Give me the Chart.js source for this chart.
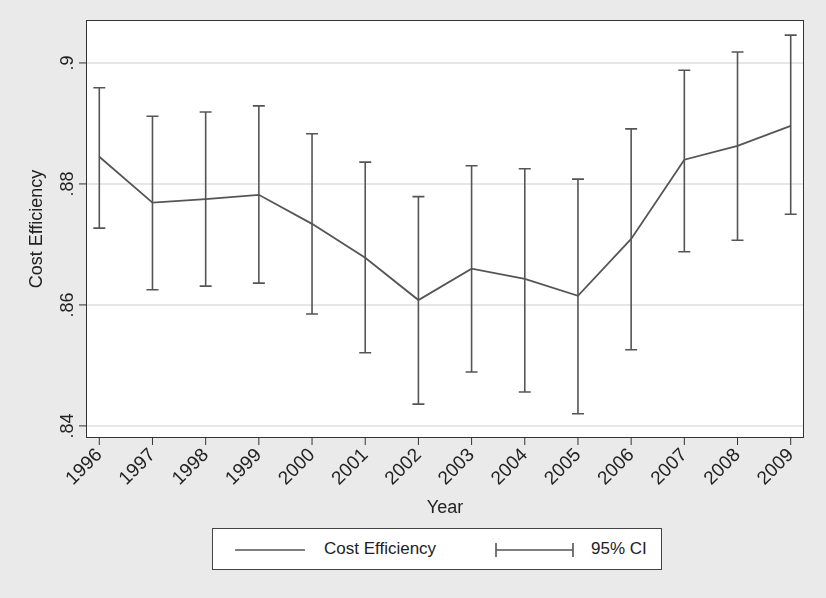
<!DOCTYPE html>
<html>
<head>
<meta charset="utf-8">
<script src="https://cdn.jsdelivr.net/npm/chart.js@4.4.1/dist/chart.umd.min.js"></script>
<style>
  html, body { margin: 0; padding: 0; background: #eaeaea; }
  #wrap { position: relative; width: 826px; height: 598px; }
  #legend {
    position: absolute; left: 212px; top: 528px; width: 450px; height: 42px;
    background: #fff; border: 1px solid #444; box-sizing: border-box;
    font-family: "Liberation Sans", Arial, sans-serif; font-size: 17px; color: #222;
  }
  #legend span { position: absolute; top: 10px; }
</style>
</head>
<body>
<div id="wrap">
  <canvas id="c" width="826" height="598"></canvas>
  <div id="legend">
    <svg width="450" height="42" style="position:absolute;left:0;top:0">
      <line x1="22" y1="21" x2="92" y2="21" stroke="#555" stroke-width="1.6"/>
      <line x1="283" y1="21" x2="360" y2="21" stroke="#555" stroke-width="1.6"/>
      <line x1="283" y1="14" x2="283" y2="28" stroke="#555" stroke-width="1.6"/>
      <line x1="360" y1="14" x2="360" y2="28" stroke="#555" stroke-width="1.6"/>
    </svg>
    <span style="left:111px">Cost Efficiency</span>
    <span style="left:378px">95% CI</span>
  </div>
</div>
<script>
/* ── Data ── */
const years = [1996, 1997, 1998, 1999, 2000, 2001, 2002, 2003, 2004, 2005, 2006, 2007, 2008, 2009];
const efficiency = [.8845, .8769, .8775, .8782, .8734, .8678, .8608, .8660, .8643, .8615, .8709, .8840, .8863, .8896];
const ciUpper = [.8959, .8912, .8919, .8929, .8883, .8836, .8779, .8830, .8825, .8808, .8891, .8988, .9018, .9046];
const ciLower = [.8727, .8625, .8631, .8636, .8585, .8521, .8436, .8489, .8456, .8420, .8526, .8688, .8707, .8750];
const yTicks = [.84, .86, .88, .9];
const yTickLabels = ['.84', '.86', '.88', '.9'];

const FONT = '"Liberation Sans", Arial, sans-serif';
const INK = '#555';

/* ── Plugin: frame, y labels, error bars, axis title ── */
const stataLook = {
  id: 'stataLook',
  beforeDraw(chart) {
    const { ctx, chartArea: a } = chart;
    ctx.save();
    ctx.fillStyle = '#fff';
    ctx.fillRect(a.left, a.top, a.right - a.left, a.bottom - a.top);
    ctx.restore();
  },
  afterDatasetsDraw(chart) {
    const { ctx, chartArea: a, scales: { x, y } } = chart;
    ctx.save();
    // error bars
    ctx.strokeStyle = INK;
    ctx.lineWidth = 1.6;
    years.forEach((yr, i) => {
      const px = x.getPixelForValue(yr);
      const t = y.getPixelForValue(ciUpper[i]);
      const b = y.getPixelForValue(ciLower[i]);
      ctx.beginPath();
      ctx.moveTo(px, t); ctx.lineTo(px, b);
      ctx.moveTo(px - 6, t); ctx.lineTo(px + 6, t);
      ctx.moveTo(px - 6, b); ctx.lineTo(px + 6, b);
      ctx.stroke();
    });
    // frame
    ctx.strokeStyle = '#333';
    ctx.lineWidth = 1;
    ctx.strokeRect(a.left + 0.5, a.top + 0.5, a.right - a.left - 1, a.bottom - a.top - 1);
    // y ticks + rotated labels
    ctx.fillStyle = '#222';
    ctx.font = '18px ' + FONT;
    ctx.textAlign = 'center';
    ctx.textBaseline = 'bottom';
    yTicks.forEach((v, i) => {
      const py = y.getPixelForValue(v);
      ctx.beginPath();
      ctx.moveTo(a.left, py); ctx.lineTo(a.left - 7, py);
      ctx.stroke();
      ctx.save();
      ctx.translate(a.left - 9, py);
      ctx.rotate(-Math.PI / 2);
      ctx.fillText(yTickLabels[i], 0, 0);
      ctx.restore();
    });
    // x ticks
    years.forEach(yr => {
      const px = x.getPixelForValue(yr);
      ctx.beginPath();
      ctx.moveTo(px, a.bottom); ctx.lineTo(px, a.bottom + 7);
      ctx.stroke();
    });
    // titles
    ctx.textBaseline = 'middle';
    ctx.fillText('Year', (a.left + a.right) / 2, 508);
    ctx.save();
    ctx.translate(37, (a.top + a.bottom) / 2);
    ctx.rotate(-Math.PI / 2);
    ctx.fillText('Cost Efficiency', 0, 0);
    ctx.restore();
    ctx.restore();
  }
};

new Chart(document.getElementById('c'), {
  type: 'line',
  data: {
    datasets: [{
      label: 'Cost Efficiency',
      data: years.map((yr, i) => ({ x: yr, y: efficiency[i] })),
      borderColor: INK,
      borderWidth: 1.8,
      pointRadius: 0,
      tension: 0,
      fill: false
    }]
  },
  options: {
    responsive: false,
    animation: false,
    layout: { padding: { top: 20, right: 22, left: 0, bottom: 0 } },
    plugins: { legend: { display: false }, tooltip: { enabled: false } },
    scales: {
      x: {
        type: 'linear',
        min: 1995.75,
        max: 2009.25,
        afterFit: s => { s.height = 160; },
        afterBuildTicks: s => { s.ticks = years.map(v => ({ value: v })); },
        grid: { display: false, drawTicks: false },
        border: { display: false },
        ticks: {
          color: '#222',
          font: { family: FONT, size: 19 },
          minRotation: 45,
          maxRotation: 45,
          padding: 6,
          callback: v => String(v)
        }
      },
      y: {
        min: .838,
        max: .9071,
        afterFit: s => { s.width = 86; },
        afterBuildTicks: s => { s.ticks = yTicks.map(v => ({ value: v })); },
        grid: { color: '#e6e6e6', lineWidth: 2, drawTicks: false },
        border: { display: false },
        ticks: { display: false }
      }
    }
  },
  plugins: [stataLook]
});
</script>
</body>
</html>
